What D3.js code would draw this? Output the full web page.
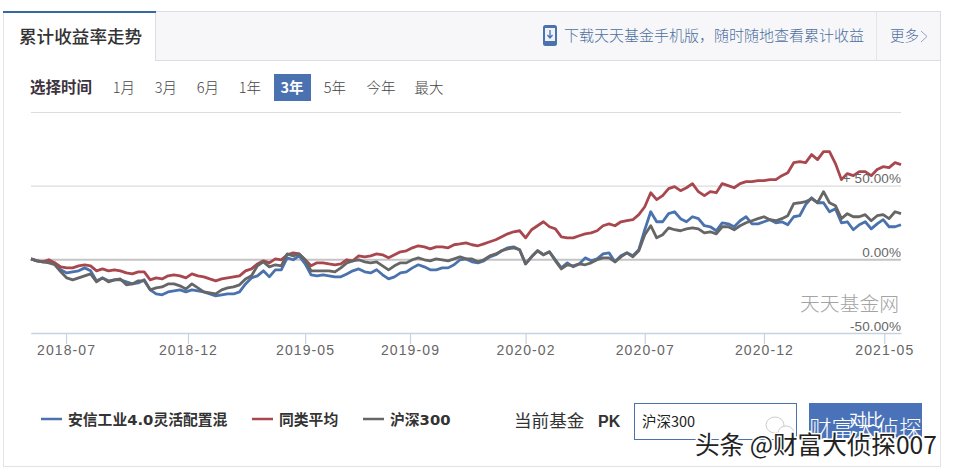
<!DOCTYPE html>
<html>
<head>
<meta charset="utf-8">
<script src="https://cdnjs.cloudflare.com/ajax/libs/d3/7.8.5/d3.min.js"></script>
<style>
  html, body { margin: 0; padding: 0; background: #fff; }
  svg { display: block; }
  text { font-family: "Noto Sans CJK SC", "Liberation Sans", sans-serif; }
</style>
</head>
<body>
<svg id="chart" width="954" height="472"></svg>
<script>
// values are percent, one sample every 5 trading days
const sampleStep = 5;
const fundValues = [0.3,-1,-1.7,-1.7,-2.4,-7.1,-9.2,-8.5,-7.8,-5.8,-7.8,-14.6,-12.6,-14.6,-13.9,-13.9,-15.3,-16.7,-16,-13.9,-20.7,-23.5,-24.1,-22.1,-21.4,-20.7,-22.1,-20.7,-21.4,-22.1,-23.5,-24.8,-24.1,-23.5,-23.5,-22.1,-16.7,-12.6,-11.2,-7.8,-11.9,-7.1,-7.1,1,-0.3,2.4,-3.1,-10.5,-11.2,-10.5,-11.2,-11.9,-11.9,-9.9,-7.8,-6.5,-8.5,-9.2,-7.1,-10.5,-13.3,-11.9,-9.2,-8.5,-5.8,-3.7,-5.1,-7.1,-7.1,-5.8,-5.8,-3.7,-0.3,0.3,-1.7,-2.4,-1,1.7,3.1,5.8,7.8,8.5,6.5,-3.1,1.7,5.8,3.1,5.1,-0.3,-5.8,-2.4,-5.1,-3.1,1,-1,0.3,3.7,4.4,-1.7,2.4,4.4,2.4,6.5,20.1,32.3,25.5,25.5,31,32.3,27.6,25.5,28.9,27.6,22.8,22.1,19.4,24.8,24.1,22.1,26.2,28.9,24.1,24.1,25.5,26.9,24.8,25.5,23.5,28.9,29.6,37.1,41.8,38.4,38.4,32.3,34.4,24.8,25.5,20.1,23.5,25.5,20.7,24.1,26.9,22.1,22.1,23.5];
const peerValues = [0.3,-1,-1.7,-0.3,-2.4,-5.1,-5.8,-5.8,-4.4,-3.7,-4.4,-7.8,-6.5,-7.8,-7.1,-7.8,-9.2,-9.9,-8.5,-8.5,-13.9,-12.6,-13.3,-11.2,-10.5,-11.2,-12.6,-9.9,-11.2,-11.9,-13.3,-14.6,-13.3,-12.6,-11.9,-11.2,-7.8,-6.5,-3.1,-1,-2.4,0.3,-0.3,3.1,4.4,3.7,-0.3,-4.4,-2.4,-2.4,-3.1,-3.7,-3.1,-0.3,-1,2.4,1.7,2.4,3.7,3.1,1,3.1,5.1,5.8,7.8,9.2,8.5,7.1,8.5,8.5,7.8,9.9,10.5,11.2,9.9,9.2,10.5,11.9,13.3,15.3,17.3,18.7,19.4,14.6,20.1,22.8,25.5,22.1,20.7,15.3,14.6,14.6,16,17.3,18,19.4,22.8,24.1,22.8,25.5,26.2,26.9,30.3,35.7,45.2,40.5,43.2,48,49.3,46.6,48.6,51.4,45.9,43.2,45.9,45.2,51.4,50,48.6,51.4,52.7,52.7,53.4,53.4,54.1,54.1,56.8,58.8,65.6,66.3,65.6,71.1,67.7,73.1,73.1,65,54.1,58.2,56.8,59.5,59.5,56.8,60.9,62.9,62.2,65.6,64.3];
const indexValues = [0.3,-1,-1.7,-2.4,-3.7,-8.5,-12.6,-13.9,-12.6,-11.2,-9.9,-15.3,-12.6,-15.3,-13.9,-13.3,-17.3,-16.7,-14.6,-14.6,-20.7,-19.4,-18.7,-16.7,-16.7,-18,-20.1,-16.7,-19.4,-22.1,-22.8,-23.5,-20.7,-19.4,-18.7,-17.3,-13.3,-11.2,-4.4,-1.7,-5.1,-3.7,-4.4,3.7,2.4,3.7,-0.3,-7.8,-7.8,-7.8,-7.8,-8.5,-5.8,-2.4,-1,-0.3,-1.7,-2.4,-1.7,-4.4,-7.1,-4.4,-2.4,-2.4,-0.3,1,-0.3,-1,0.3,-0.3,-1,0.3,1.7,0.3,0.3,-1.7,-0.3,2.4,3.7,5.8,7.1,7.8,6.5,-3.1,1.7,5.8,3.1,5.1,-1,-6.5,-3.7,-4.4,-3.1,-3.7,-2.4,-0.3,1,1,-1.7,1.7,4.4,1.7,5.8,16.7,22.8,14.6,16.7,21.4,20.1,19.4,20.7,21.4,20.7,18,18.7,17.3,22.1,22.1,20.1,22.8,24.8,26.2,27.6,28.9,26.9,26.2,27.6,29.6,37.8,38.4,39.1,41.2,38.4,45.9,38.4,36.4,27.6,31,28.9,28.9,30.3,26.2,29.6,30.3,27.6,32.3,31];

const seriesNames = ["安信工业4.0灵活配置混", "同类平均", "沪深300"];
const seriesColors = ["#4a72ad", "#a9474f", "#666666"];
const seriesValues = [fundValues, peerValues, indexValues];

const tickLabels = ["2018-07", "2018-12", "2019-05", "2019-09", "2020-02", "2020-07", "2020-12", "2021-05"];
const tickDays = [29.4, 131.7, 230, 318, 415, 515, 615, 716];
const yTicks = [-50, 0, 50, 100];
const yTickLabels = ["-50.00%", "0.00%", "+ 50.00%", ""];
const timeRanges = ["1月", "3月", "6月", "1年", "3年", "5年", "今年", "最大"];
const timeRangeX = [124, 166, 208, 250, 292, 335, 381, 429];

const svg = d3.select("#chart");

// frame and header strip
svg.append("rect").attr("x", 3.5).attr("y", 11.5).attr("width", 937).attr("height", 455)
  .attr("fill", "#fff").attr("stroke", "#e3e3e3");
svg.append("rect").attr("x", 155.5).attr("y", 11.5).attr("width", 785).attr("height", 49)
  .attr("fill", "#f7f7f9").attr("stroke", "#dcdde0");
svg.append("line").attr("x1", 876.5).attr("x2", 876.5).attr("y1", 12).attr("y2", 60).attr("stroke", "#e6e6e8");
svg.append("rect").attr("x", 3).attr("y", 11).attr("width", 153).attr("height", 2).attr("fill", "#35699f");
svg.append("text").attr("x", 19).attr("y", 43).attr("font-size", 17.6).attr("font-weight", 500).attr("fill", "#333").text("累计收益率走势");

// phone icon
svg.append("rect").attr("x", 543).attr("y", 25).attr("width", 14).attr("height", 21).attr("rx", 2.5).attr("fill", "#4a72ad");
svg.append("rect").attr("x", 545).attr("y", 28).attr("width", 10).attr("height", 13).attr("fill", "#eef2f8");
svg.append("path").attr("d", "M550 30V37M547.5 35L550 38L552.5 35").attr("fill", "none").attr("stroke", "#4a72ad").attr("stroke-width", 1.3);
svg.append("text").attr("x", 564).attr("y", 41).attr("font-size", 15).attr("font-weight", 300).attr("fill", "#4d6f9e").text("下载天天基金手机版，随时随地查看累计收益");
svg.append("text").attr("x", 890).attr("y", 41).attr("font-size", 14.5).attr("font-weight", 300).attr("fill", "#4d6f9e").text("更多");
svg.append("path").attr("d", "M921 31L927 36.5L921 42").attr("fill", "none").attr("stroke", "#8fa3c0");

// time range buttons
svg.append("text").attr("x", 30).attr("y", 92.5).attr("font-size", 15.5).attr("font-weight", 700).attr("fill", "#3d3340").text("选择时间");
svg.append("rect").attr("x", 274).attr("y", 74).attr("width", 37).attr("height", 27).attr("fill", "#4a72b0");
svg.selectAll(".range").data(timeRanges).enter().append("text")
  .attr("class", "range")
  .attr("x", (d, i) => timeRangeX[i])
  .attr("y", 92.5)
  .attr("text-anchor", "middle")
  .attr("font-size", 14.5)
  .attr("font-weight", d => d === "3年" ? 700 : 300)
  .attr("fill", d => d === "3年" ? "#fff" : "#444")
  .text(d => d);

// scales
const x = d3.scaleLinear().domain([0, (fundValues.length - 1) * sampleStep]).range([31, 901]);
const y = d3.scaleLinear().domain([-50, 100]).range([333, 112]);

// grid
const grid = svg.append("g").attr("transform", "translate(901,0)")
  .call(d3.axisLeft(y).tickValues(yTicks).tickSize(870).tickFormat(""));
grid.select(".domain").remove();
grid.selectAll(".tick line")
  .attr("stroke", d => d === 0 ? "#c4c4c4" : "#dcdcdc")
  .attr("stroke-width", d => d === 0 ? 2 : 1.2);

// x axis
const xAxis = svg.append("g").attr("transform", "translate(0,333)")
  .call(d3.axisBottom(x).tickValues(tickDays).tickSizeInner(11).tickSizeOuter(0)
    .tickFormat((d, i) => tickLabels[i]));
xAxis.select(".domain").attr("stroke", "#c6d3e0").attr("stroke-width", 1.5);
xAxis.selectAll(".tick line").attr("stroke", "#c6d3e0").attr("stroke-width", 1.2);
xAxis.selectAll(".tick text")
  .attr("y", 12.5).attr("dy", "0.71em")
  .attr("font-size", 14).attr("fill", "#666")
  .style("font-family", "'Liberation Sans', sans-serif")
  .attr("letter-spacing", 1.1);

// lines
const line = d3.line().x((d, i) => x(i * sampleStep)).y(d => y(d));
svg.selectAll(".series").data(seriesValues).enter().append("path")
  .attr("class", "series")
  .attr("fill", "none")
  .attr("stroke-width", 2.8)
  .attr("stroke-linejoin", "round")
  .attr("stroke", (d, i) => seriesColors[i])
  .attr("d", line);

// y labels sit on top of the lines
const yLabels = svg.append("g").attr("transform", "translate(901,0)")
  .call(d3.axisLeft(y).tickValues(yTicks).tickSize(0).tickFormat((d, i) => yTickLabels[i]));
yLabels.select(".domain").remove();
yLabels.selectAll(".tick text")
  .attr("x", 0).attr("dy", -3)
  .attr("text-anchor", "end")
  .attr("font-size", 13.5).attr("fill", "#666")
  .style("font-family", "'Liberation Sans', sans-serif")
  .attr("letter-spacing", 0.1);

svg.append("text").attr("x", 899).attr("y", 311).attr("text-anchor", "end")
  .attr("font-size", 19.8).attr("font-weight", 300).attr("fill", "#a4a4a4").text("天天基金网");

// legend
const legendX = [41, 252, 363];
const legend = svg.selectAll(".legend").data(seriesNames).enter().append("g")
  .attr("class", "legend")
  .attr("transform", (d, i) => `translate(${legendX[i]},419)`);
legend.append("line").attr("x1", 0).attr("x2", 21).attr("y1", 0).attr("y2", 0)
  .attr("stroke", (d, i) => seriesColors[i]).attr("stroke-width", 2.5);
legend.append("text").attr("x", 27).attr("y", 6).attr("font-size", 14.8).attr("font-weight", 700)
  .style("font-family", "'DejaVu Sans', 'Noto Sans CJK SC', sans-serif")
  .attr("fill", "#333").text(d => d);

// compare controls
svg.append("text").attr("x", 514).attr("y", 427).attr("font-size", 17.6).attr("fill", "#333").text("当前基金");
svg.append("text").attr("x", 598).attr("y", 427).attr("font-size", 16).attr("font-weight", 700)
  .style("font-family", "'Liberation Sans', sans-serif").attr("fill", "#333").text("PK");
svg.append("rect").attr("x", 634.5).attr("y", 403.5).attr("width", 162).attr("height", 36)
  .attr("fill", "#fff").attr("stroke", "#4a72ad");
svg.append("text").attr("x", 642).attr("y", 427).attr("font-size", 14.5).attr("fill", "#222").text("沪深300");
svg.append("rect").attr("x", 809).attr("y", 403).attr("width", 113).attr("height", 36).attr("fill", "#4a72b8");
svg.append("text").attr("x", 866).attr("y", 426).attr("text-anchor", "middle").attr("font-size", 17).attr("fill", "#fff").text("对比");

// repost watermark
svg.append("ellipse").attr("cx", 775).attr("cy", 425).attr("rx", 9).attr("ry", 8).attr("fill", "#fff").attr("stroke", "#ccc");
svg.append("ellipse").attr("cx", 786).attr("cy", 433).attr("rx", 8).attr("ry", 7).attr("fill", "#fff").attr("stroke", "#ccc");
svg.append("text").attr("x", 809).attr("y", 437).attr("font-size", 22.6).attr("font-weight", 300).attr("fill", "#fff").text("财富大侦探");
svg.append("text").attr("x", 695).attr("y", 454).attr("font-size", 24.6)
  .attr("fill", "#222").attr("stroke", "#fff").attr("stroke-width", 3).attr("paint-order", "stroke")
  .text("头条 @财富大侦探007");
</script>
</body>
</html>
